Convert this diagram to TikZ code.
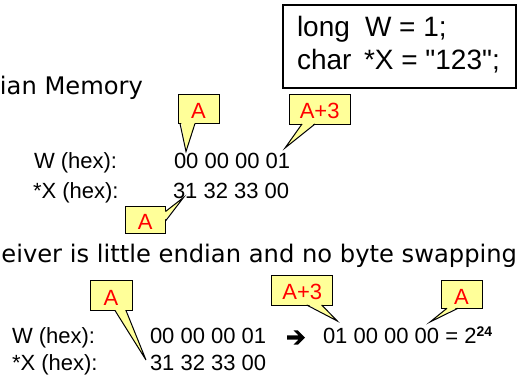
\documentclass[tikz,border=0pt]{standalone}
\usepackage{fontspec}
\setmainfont{Liberation Sans}
\newfontfamily\codefont{Liberation Sans}[Ligatures=TeXOff]
\newfontfamily\titlefont{DejaVu Sans}
\usetikzlibrary{calc}

\definecolor{calloutyellow}{HTML}{FFFF99}
\definecolor{addrred}{HTML}{FF0000}

% pointer of an address callout: #1 callout node, #2 base start, #3 tip, #4 base end
\newcommand\drawcalloutpointer[4]{%
  \fill[calloutyellow] ($(#2)!1.5bp!(#1.center)$) -- (#3) -- ($(#4)!1.5bp!(#1.center)$) -- cycle;
  \draw[pointer] (#2) -- (#3) -- (#4);}

\tikzset{
  every node/.style={inner sep=0pt, outer sep=0pt},
  title/.style={anchor=base east, font=\titlefont\fontsize{24.2bp}{28bp}\selectfont},
  hex/.style={anchor=base west, font=\fontsize{22bp}{26bp}\selectfont},
  code/.style={anchor=base west, font=\codefont\fontsize{28bp}{32bp}\selectfont},
  codebox/.style={draw=black, line width=1.2bp, fill=white},
  callout/.style={draw=black, line width=1bp, fill=calloutyellow, text=addrred,
    font=\fontsize{22bp}{26bp}\selectfont, text height=19.5bp, text depth=0pt},
  pointer/.style={draw=black, line width=1bp, line join=miter},
  bigarrow/.style={fill=black},
}

\begin{document}
\begin{tikzpicture}[x=1bp, y=-1bp]
\useasboundingbox (0,0) rectangle (518,375);

% declarations
\node[codebox, minimum width=233bp, minimum height=83bp, anchor=north west] (decl) at (283,5) {};
\node[code] (longkw) at (297,36) {long};
\node[code] (wdecl)  at (365,36) {W = 1;};
\node[code] (charkw) at (297,69) {char};
\node[code] (xdecl)  at (364,69) {*X = "123";};

% memory layout on the sender
\node[title] (title1) at (143,94.5) {ian Memory};
\node[hex] (wlab1) at (34,168) {W (hex):};
\node[hex] (wval1) at (174,168) {00 00 00 01};
\node[hex] (xlab1) at (33,198) {*X (hex):};
\node[hex] (xval1) at (173,198) {31 32 33 00};

\node[callout, minimum width=41bp, minimum height=29.5bp] (c1) at (198.5,108.75) {A};
\coordinate (c1l) at (180,123.5);
\coordinate (c1t) at (186,151.5);
\coordinate (c1r) at (195,123.5);
\drawcalloutpointer{c1}{c1l}{c1t}{c1r}

\node[callout, minimum width=60.7bp, minimum height=30bp] (c2) at (319.65,109) {A+3};
\coordinate (c2l) at (302,124);
\coordinate (c2t) at (285,148);
\coordinate (c2r) at (315,124);
\drawcalloutpointer{c2}{c2l}{c2t}{c2r}

\node[callout, minimum width=40.5bp, minimum height=26.8bp] (c3) at (145.25,219.9) {A};
\coordinate (c3l) at (165.5,211.5);
\coordinate (c3t) at (183.5,197.5);
\coordinate (c3r) at (165.5,221);
\drawcalloutpointer{c3}{c3l}{c3t}{c3r}

% memory as read by the receiver
\node[title] (title2) at (517,262.5) {eiver is little endian and no byte swapping};
\node[hex] (wlab2) at (12,343) {W (hex):};
\node[hex] (wval2) at (150,343) {00 00 00 01};
\node[hex] (xlab2) at (12,370.5) {*X (hex):};
\node[hex] (xval2) at (150,370.5) {31 32 33 00};

% heavy arrow between the two byte orders
\fill[bigarrow] (287,335.3) -- (298.5,335.3) -- (293.5,330.3) -- (297.8,330.3)
  -- (305,337.5) -- (297.8,344.7) -- (293.5,344.7) -- (298.5,339.7) -- (287,339.7) -- cycle;

\node[hex] (wswap) at (323,343) {01 00 00 00 = 2\raisebox{7bp}{\fontsize{14bp}{14bp}\selectfont\bfseries 24}};

\node[callout, minimum width=42bp, minimum height=30bp] (c4) at (111,295.5) {A};
\coordinate (c4l) at (115,310.5);
\coordinate (c4t) at (146,360);
\coordinate (c4r) at (126,310.5);
\drawcalloutpointer{c4}{c4l}{c4t}{c4r}

\node[callout, minimum width=61bp, minimum height=30bp] (c5) at (302.2,290) {A+3};
\coordinate (c5l) at (306.7,305);
\coordinate (c5t) at (337.3,321);
\coordinate (c5r) at (321.7,305);
\drawcalloutpointer{c5}{c5l}{c5t}{c5r}

\node[callout, minimum width=41bp, minimum height=27.5bp] (c6) at (461.5,294.5) {A};
\coordinate (c6l) at (447,308.25);
\coordinate (c6t) at (430,322);
\coordinate (c6r) at (458,308.25);
\drawcalloutpointer{c6}{c6l}{c6t}{c6r}
\end{tikzpicture}
\end{document}
